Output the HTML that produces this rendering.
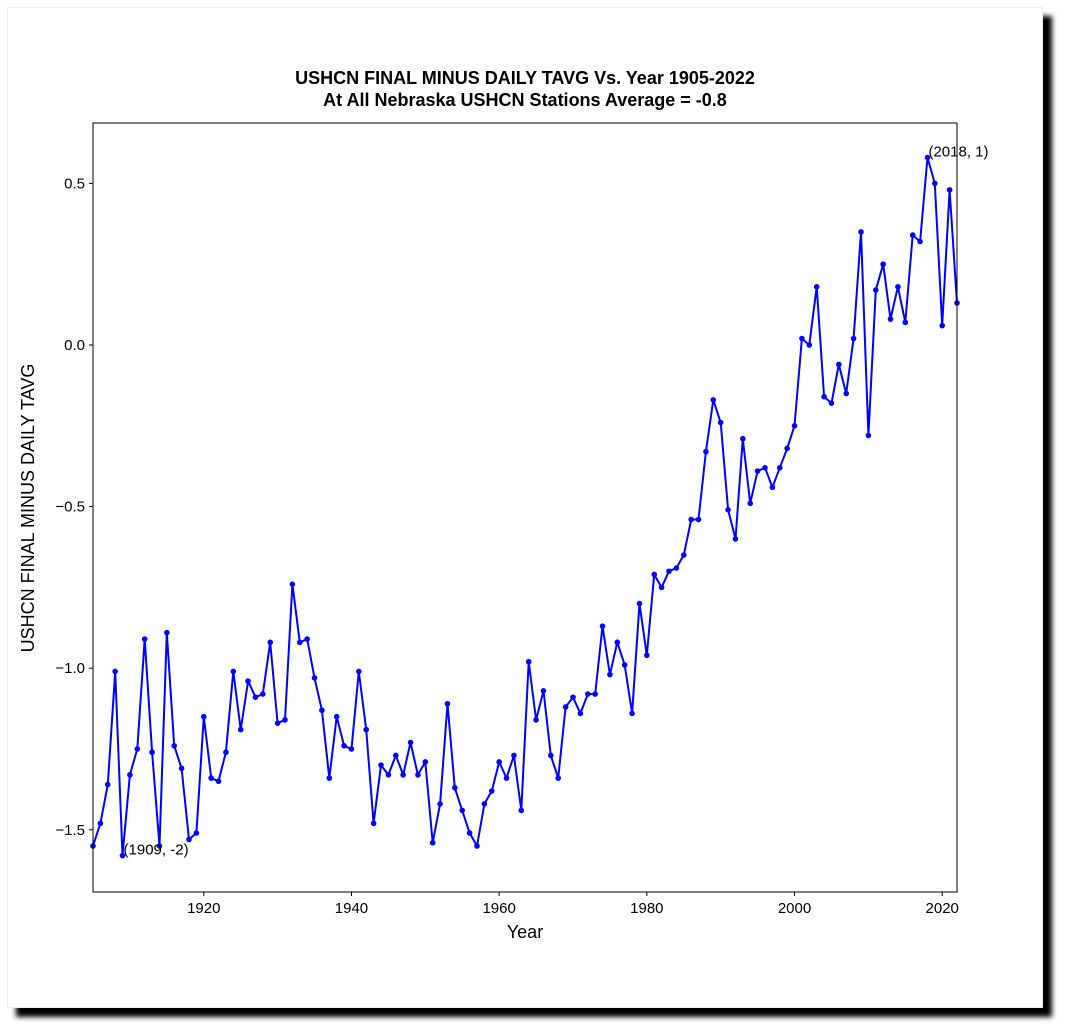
<!DOCTYPE html>
<html><head><meta charset="utf-8"><style>
html,body{margin:0;padding:0;background:#fff;width:1066px;height:1031px;overflow:hidden}
#frame{position:absolute;left:7px;top:7px;width:1036px;height:1001px;background:#fff;box-shadow:9px 9px 5px #000;border:1px solid #eee;box-sizing:border-box}
svg{position:absolute;left:0;top:0}
text{font-family:"Liberation Sans","DejaVu Sans",sans-serif;fill:#000}
</style></head><body>
<div id="frame"></div>
<svg id="chart" width="1066" height="1031">
<text x="525" y="84" text-anchor="middle" font-size="18" font-weight="bold">USHCN FINAL MINUS DAILY TAVG Vs. Year 1905-2022</text>
<text x="525" y="106" text-anchor="middle" font-size="18" font-weight="bold">At All Nebraska USHCN Stations Average = -0.8</text>
<text x="525" y="938" text-anchor="middle" font-size="18">Year</text>
<text transform="translate(34,508) rotate(-90)" text-anchor="middle" font-size="18">USHCN FINAL MINUS DAILY TAVG</text>
<g id="ticks"></g>
<g id="series"></g>
<rect x="93" y="123" width="864" height="769" fill="none" stroke="#000" stroke-width="1"/>
<g id="ann"></g>
</svg>
<script>
const years=[];for(let y=1905;y<=2022;y++)years.push(y);
const values=[-1.55,-1.48,-1.36,-1.01,-1.58,-1.33,-1.25,-0.91,-1.26,-1.55,-0.89,-1.24,-1.31,-1.53,-1.51,-1.15,-1.34,-1.35,-1.26,-1.01,-1.19,-1.04,-1.09,-1.08,-0.92,-1.17,-1.16,-0.74,-0.92,-0.91,-1.03,-1.13,-1.34,-1.15,-1.24,-1.25,-1.01,-1.19,-1.48,-1.30,-1.33,-1.27,-1.33,-1.23,-1.33,-1.29,-1.54,-1.42,-1.11,-1.37,-1.44,-1.51,-1.55,-1.42,-1.38,-1.29,-1.34,-1.27,-1.44,-0.98,-1.16,-1.07,-1.27,-1.34,-1.12,-1.09,-1.14,-1.08,-1.08,-0.87,-1.02,-0.92,-0.99,-1.14,-0.80,-0.96,-0.71,-0.75,-0.70,-0.69,-0.65,-0.54,-0.54,-0.33,-0.17,-0.24,-0.51,-0.60,-0.29,-0.49,-0.39,-0.38,-0.44,-0.38,-0.32,-0.25,0.02,0.0,0.18,-0.16,-0.18,-0.06,-0.15,0.02,0.35,-0.28,0.17,0.25,0.08,0.18,0.07,0.34,0.32,0.58,0.50,0.06,0.48,0.13];
const xTicks=[1920,1940,1960,1980,2000,2020];
const yTicks=[0.5,0.0,-0.5,-1.0,-1.5];
const yTickLabels=["0.5","0.0","\u22120.5","\u22121.0","\u22121.5"];
const annotations=[{year:1909,value:-1.58,label:"(1909, -2)"},{year:2018,value:0.58,label:"(2018, 1)"}];
const X=v=>93+(v-1905)*(864/117);
const Y=v=>345-v*323.2;
const NS="http://www.w3.org/2000/svg";
function mk(t,a,p){const e=document.createElementNS(NS,t);for(const k in a)e.setAttribute(k,a[k]);p.appendChild(e);return e;}
const tg=document.getElementById('ticks');
xTicks.forEach(t=>{
 const l=mk('line',{x1:X(t),x2:X(t),y1:892,y2:896,stroke:'#000'},tg);
 
 
 const s=mk('text',{x:X(t),y:913,'text-anchor':'middle','font-size':'15'},tg);s.textContent=t;
 
 
});
yTicks.forEach((t,i)=>{
 const l=mk('line',{x1:89,x2:93,y1:Y(t),y2:Y(t),stroke:'#000'},tg);
 
 
 const s=mk('text',{x:85,y:Y(t)+5,'text-anchor':'end','font-size':'15'},tg);s.textContent=yTickLabels[i];
 
 
});
const sg=document.getElementById('series');
const pts=years.map((y,i)=>X(y).toFixed(1)+','+Y(values[i]).toFixed(1)).join(' ');
const pl=mk('polyline',{points:pts,fill:'none',stroke:'#0000ff','stroke-width':'2'},sg);


years.forEach((y,i)=>{
 const c=mk('circle',{cx:X(y),cy:Y(values[i]),r:2.8,fill:'#0000ff'},sg);
 
 
});
const ag=document.getElementById('ann');
annotations.forEach(a=>{
 const s=mk('text',{x:X(a.year)+1,y:Y(a.value)-1,'font-size':'15'},ag);s.textContent=a.label;
 
 
});
</script>
</body></html>
